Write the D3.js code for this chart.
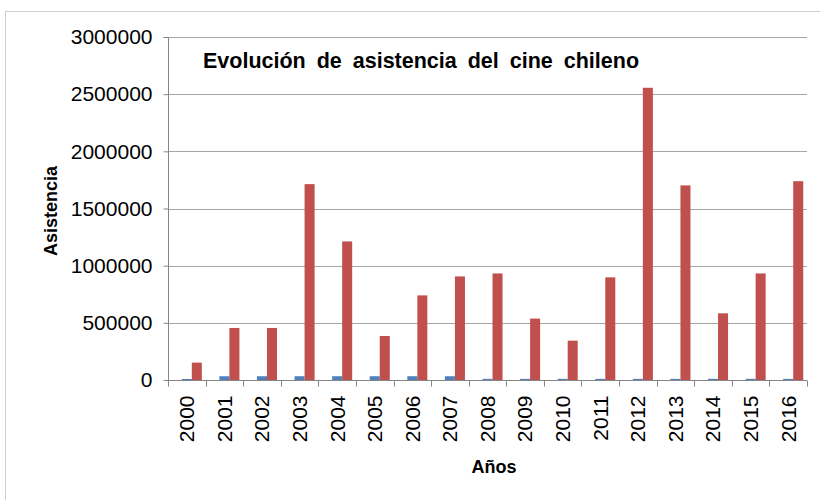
<!DOCTYPE html>
<html>
<head>
    <meta charset="utf-8">
    <style>
        body { margin: 0; background: #fff; }
        svg text { font-family: "Liberation Sans", Arial, sans-serif; fill: #000; }
    </style>
</head>
<body>
    <div id="graph"></div>
    <script src="https://d3js.org/d3.v7.min.js"></script>
    <script>
        // Datos
        const anios = ["2000", "2001", "2002", "2003", "2004", "2005", "2006", "2007", "2008",
                       "2009", "2010", "2011", "2012", "2013", "2014", "2015", "2016"];
        // la primera serie del gráfico original no tiene valores visibles
        const serie1 = [0, 0, 0, 0, 0, 0, 0, 0, 0, 0, 0, 0, 0, 0, 0, 0, 0];
        const serie2 = [9000, 33000, 33000, 33000, 33000, 33000, 33000, 33000, 10000,
                        10000, 10000, 10000, 10000, 10000, 10000, 10000, 10000];
        const serie3 = [152000, 455000, 455000, 1713000, 1212000, 385000, 740000, 906000, 932000,
                        537000, 344000, 898000, 2556000, 1702000, 583000, 932000, 1739000];
        const yTicks = [0, 500000, 1000000, 1500000, 2000000, 2500000, 3000000];
        const series = ["s1", "s2", "s3"];
        const colores = { s1: "#9BBB59", s2: "#4F81BD", s3: "#C0504D" };

        const WIDTH = 820, HEIGHT = 500;
        const X0 = 168, X1 = 807, Y0 = 380, Y1 = 37;

        const svg = d3.select("#graph").append("svg")
            .attr("width", WIDTH)
            .attr("height", HEIGHT);

        // marco del gráfico
        svg.append("rect")
            .attr("x", 5.5).attr("y", 11.5)
            .attr("width", 830).attr("height", 500)
            .attr("fill", "none").attr("stroke", "#d0d0d0");

        const x = d3.scaleBand().domain(anios).range([X0, X1]).paddingInner(0).paddingOuter(0);
        const xSub = d3.scaleBand().domain(series).range([0, x.bandwidth()]).paddingOuter(0.375);
        const y = d3.scaleLinear().domain([0, 3000000]).range([Y0, Y1]);

        // líneas de cuadrícula
        svg.append("g")
            .selectAll("line")
            .data(yTicks.filter(d => d > 0))
            .join("line")
            .attr("x1", X0).attr("x2", X1)
            .attr("y1", d => Math.round(y(d)) + 0.5)
            .attr("y2", d => Math.round(y(d)) + 0.5)
            .attr("stroke", "#a6a6a6");

        // barras
        const datos = anios.map((a, i) => ({ anio: a, s1: serie1[i], s2: serie2[i], s3: serie3[i] }));
        svg.append("g")
            .selectAll("g")
            .data(datos)
            .join("g")
            .attr("transform", d => `translate(${x(d.anio)},0)`)
            .selectAll("rect")
            .data(d => series.map(k => ({ k, v: d[k] })))
            .join("rect")
            .attr("x", d => xSub(d.k))
            .attr("width", xSub.bandwidth())
            .attr("y", d => y(d.v))
            .attr("height", d => Y0 - y(d.v))
            .attr("fill", d => colores[d.k]);

        // eje Y
        const ejeY = svg.append("g")
            .attr("transform", `translate(${X0 + 0.5},0)`)
            .call(d3.axisLeft(y).tickValues(yTicks).tickFormat(d3.format("d")).tickSize(5).tickPadding(11));
        ejeY.select(".domain").attr("stroke", "#868686").attr("d", `M-5,${Y1 + 0.5}H0V${Y0}`);
        ejeY.selectAll(".tick line").attr("stroke", "#868686");
        ejeY.selectAll("text").attr("font-size", 21).attr("font-family", "Liberation Sans").attr("fill", "#000");

        // eje X
        const ejeX = svg.append("g")
            .attr("transform", `translate(0,${Y0 + 0.5})`)
            .call(d3.axisBottom(x).tickSize(0).tickPadding(0));
        ejeX.select(".domain").attr("stroke", "#868686").attr("d", `M${X0},0H${X1}`);
        ejeX.selectAll(".tick text")
            .attr("font-size", 21).attr("font-family", "Liberation Sans").attr("fill", "#000")
            .attr("transform", "translate(0,15) rotate(-90)")
            .attr("text-anchor", "end")
            .attr("dy", "0.35em").attr("dx", 0).attr("y", 0).attr("x", 0);
        // marcas entre categorías
        ejeX.append("g")
            .selectAll("line")
            .data(anios.concat(["fin"]))
            .join("line")
            .attr("x1", (d, i) => Math.round(X0 + i * x.step()) + 0.5)
            .attr("x2", (d, i) => Math.round(X0 + i * x.step()) + 0.5)
            .attr("y1", 0).attr("y2", 6)
            .attr("stroke", "#868686");

        // títulos
        svg.append("text")
            .attr("x", 203).attr("y", 68)
            .attr("font-size", 21.5).attr("font-weight", "bold")
            .attr("word-spacing", 5)
            .text("Evolución de asistencia del cine chileno");

        svg.append("text")
            .attr("transform", "translate(57,211) rotate(-90)")
            .attr("text-anchor", "middle")
            .attr("font-size", 18).attr("font-weight", "bold")
            .text("Asistencia");

        svg.append("text")
            .attr("x", 494).attr("y", 473)
            .attr("text-anchor", "middle")
            .attr("font-size", 18).attr("font-weight", "bold")
            .text("Años");
    </script>
</body>
</html>
